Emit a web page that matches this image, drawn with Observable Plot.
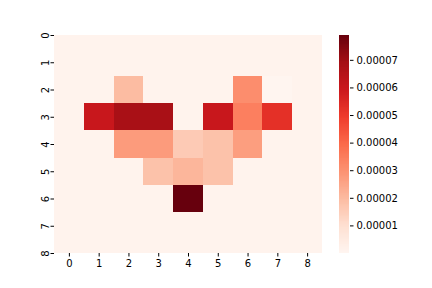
<!DOCTYPE html>
<html>
<head>
<meta charset="utf-8">
<script src="https://cdn.jsdelivr.net/npm/d3@7"></script>
<script src="https://cdn.jsdelivr.net/npm/@observablehq/plot@0.6"></script>
<style>
  html, body { margin: 0; padding: 0; background: #fff; }
  #wrap { position: relative; width: 432px; height: 288px; }
  #wrap > svg { position: absolute; top: 0; }
</style>
</head>
<body>
<div id="wrap"></div>
<script>
// Column and row labels
const colLabels = [0, 1, 2, 3, 4, 5, 6, 7, 8];
const rowLabels = [0, 1, 2, 3, 4, 5, 6, 7, 8];
// Heatmap values, one array per row
const bg = 1e-6;
const row0 = [bg, bg, bg, bg, bg, bg, bg, bg, bg];
const row1 = [bg, bg, bg, bg, bg, bg, bg, bg, bg];
const row2 = [bg, bg, 1.95e-5, bg, bg, bg, 3.08e-5, 0, bg];
const row3 = [bg, 6.0e-5, 6.82e-5, 6.82e-5, bg, 6.0e-5, 3.43e-5, 5.25e-5, bg];
const row4 = [bg, bg, 2.75e-5, 2.75e-5, 1.57e-5, 1.79e-5, 2.68e-5, bg, bg];
const row5 = [bg, bg, bg, 1.79e-5, 2.1e-5, 1.79e-5, bg, bg, bg];
const row6 = [bg, bg, bg, bg, 7.9e-5, bg, bg, bg, bg];
const row7 = [bg, bg, bg, bg, bg, bg, bg, bg, bg];
const row8 = [bg, bg, bg, bg, bg, bg, bg, bg, bg];
const rows = [row0, row1, row2, row3, row4, row5, row6, row7, row8];
// Colorbar ticks
const cbarTicks = [1e-5, 2e-5, 3e-5, 4e-5, 5e-5, 6e-5, 7e-5];

const cells = [];
rows.forEach((r, i) => r.forEach((v, j) => cells.push({row: rowLabels[i], col: colLabels[j], v})));

const vmin = d3.min(cells, d => d.v);
const vmax = d3.max(cells, d => d.v);
const reds = ["#fff5f0", "#fee0d2", "#fcbba1", "#fc9272", "#fb6a4a", "#ef3b2c", "#cb181d", "#a50f15", "#67000d"];
const colorOpts = {
  type: "linear",
  domain: reds.map((_, i) => vmin + (vmax - vmin) * i / (reds.length - 1)),
  range: reds,
  interpolate: "rgb"
};
const font = {fontFamily: "DejaVu Sans", fontSize: "10px", color: "#000", background: "transparent"};

const main = Plot.plot({
  width: 432, height: 288,
  marginLeft: 54, marginRight: 110, marginTop: 35, marginBottom: 35,
  style: font,
  x: {domain: [0, colLabels.length], axis: null},
  y: {domain: [0.5, rowLabels.length - 0.5], reverse: true, axis: null},
  color: colorOpts,
  marks: [
    Plot.rect(cells, {x1: d => d.col, x2: d => d.col + 1, y1: d => d.row, y2: d => d.row + 1,
      fill: "v", clip: true, shapeRendering: "crispEdges"}),
    Plot.axisX(colLabels.map(c => c + 0.5), {tickSize: 3.5, tickPadding: 2.5,
      tickFormat: d => String(d - 0.5), fontSize: 10}),
    Plot.axisY(rowLabels.map(r => r + 0.5), {tickSize: 3.5, tickPadding: 2.5, tickRotate: -90,
      tickFormat: d => String(d - 0.5), fontSize: 10})
  ]
});
main.style.left = "0px";

const steps = d3.range(0, 256).map(i => vmin + (vmax - vmin) * i / 256);
const dstep = (vmax - vmin) / 256;
const cbar = Plot.plot({
  width: 93, height: 288,
  marginLeft: 0, marginRight: 83, marginTop: 35, marginBottom: 35,
  style: font,
  x: {domain: [0, 1], axis: null},
  y: {domain: [vmin, vmax], axis: null},
  color: colorOpts,
  marks: [
    Plot.rect(steps, {x1: 0, x2: 1, y1: d => d, y2: d => d + dstep, fill: d => d + dstep / 2,
      shapeRendering: "crispEdges"}),
    Plot.axisY(cbarTicks, {anchor: "right", tickSize: 3.5, tickPadding: 3.5,
      tickFormat: d3.format(".5f"), fontSize: 10})
  ]
});
cbar.style.left = "339px";

const wrap = document.getElementById("wrap");
wrap.appendChild(main);
wrap.appendChild(cbar);
</script>
</body>
</html>
